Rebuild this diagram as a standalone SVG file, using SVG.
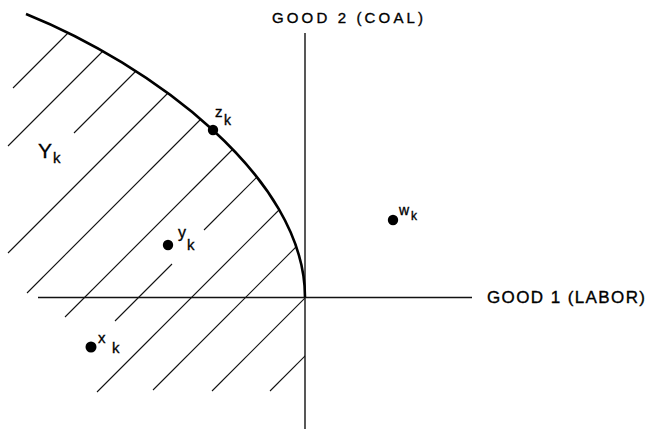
<svg xmlns="http://www.w3.org/2000/svg" width="650" height="429" viewBox="0 0 650 429">
<style>
.axis{stroke:#111;stroke-width:1.4;fill:none}
.curve{stroke:#000;stroke-width:2.6;fill:none}
.hatch{stroke:#111;stroke-width:1.1;fill:none}
.dot{fill:#000}
text{font-family:"Liberation Sans",Arial,sans-serif;fill:#000;stroke:#000;stroke-width:0.35}
</style>
<defs>
<clipPath id="region">
<path d="M26,14 C150,64 305,177 305,297 L305,429 L0,429 L0,14 Z"/>
</clipPath>
</defs>
<rect width="650" height="429" fill="#fff"/>
<g id="axes">
<line class="axis" x1="305" y1="33" x2="305" y2="429"/>
<line class="axis" x1="38" y1="297.5" x2="472" y2="297.5"/>
<text x="272" y="23" font-size="15" textLength="151" lengthAdjust="spacing">GOOD 2 (COAL)</text>
<text x="487" y="303" font-size="17" textLength="158" lengthAdjust="spacing">GOOD 1 (LABOR)</text>
</g>
<g id="hatching" clip-path="url(#region)">
<line class="hatch" x1="13" y1="88" x2="75" y2="26"/>
<line class="hatch" x1="8" y1="146" x2="112" y2="42"/>
<line class="hatch" x1="74" y1="133" x2="142" y2="65"/>
<line class="hatch" x1="8" y1="253" x2="175" y2="86"/>
<line class="hatch" x1="27" y1="293" x2="208" y2="112"/>
<line class="hatch" x1="65" y1="317" x2="236" y2="146"/>
<line class="hatch" x1="115" y1="321" x2="172" y2="264"/>
<line class="hatch" x1="204" y1="230" x2="262" y2="172"/>
<line class="hatch" x1="97" y1="392" x2="285" y2="204"/>
<line class="hatch" x1="153" y1="390" x2="300" y2="243"/>
<line class="hatch" x1="212" y1="391" x2="310" y2="293"/>
<line class="hatch" x1="270" y1="391" x2="312" y2="349"/>
</g>
<g id="frontier">
<path class="curve" d="M26,14 C150,64 305,177 305,297"/>
</g>
<g id="Yk">
<text x="38" y="158" font-size="21">Y</text>
<text x="53" y="163" font-size="15">k</text>
</g>
<g id="zk">
<circle class="dot" cx="213" cy="130" r="5.2"/>
<text x="215" y="117" font-size="15">z</text>
<text x="224" y="125" font-size="14">k</text>
</g>
<g id="yk">
<circle class="dot" cx="168" cy="245" r="5.2"/>
<text x="178" y="238" font-size="16">y</text>
<text x="187" y="250" font-size="15">k</text>
</g>
<g id="wk">
<circle class="dot" cx="393" cy="220" r="5.2"/>
<text x="399" y="215" font-size="14">w</text>
<text x="411" y="220" font-size="12">k</text>
</g>
<g id="xk">
<circle class="dot" cx="91" cy="347" r="5.5"/>
<text x="98" y="343" font-size="15">x</text>
<text x="112" y="353" font-size="15">k</text>
</g>
</svg>
